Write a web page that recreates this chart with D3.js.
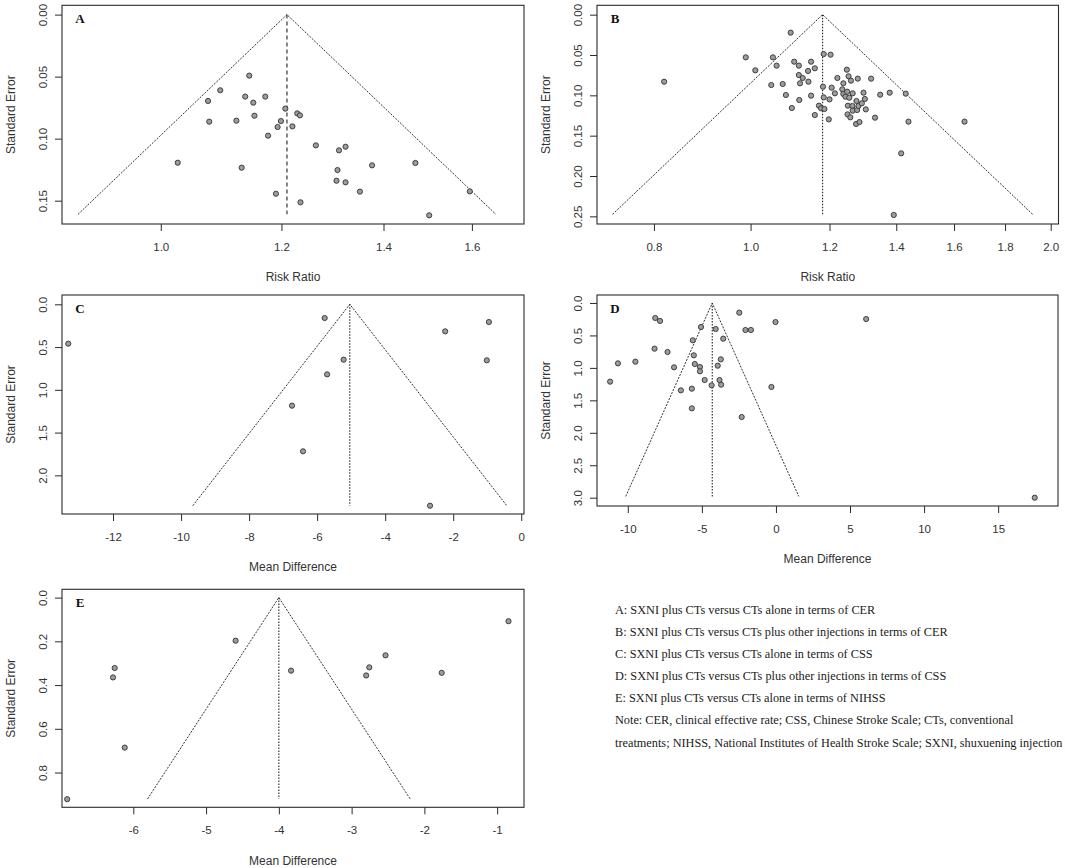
<!DOCTYPE html>
<html><head><meta charset="utf-8">
<script src="https://cdn.jsdelivr.net/npm/d3@7"></script>
<style>body{margin:0;background:#fff} svg{display:block}</style>
</head><body>
<svg id="chart" width="1065" height="868"></svg>
<script>
// ---------- DATA ----------
const aRR = [1.026,1.074,1.076,1.094,1.121,1.130,1.136,1.143,1.150,1.152,1.171,1.176,1.190,1.193,1.199,1.207,1.220,1.229,1.234,1.235,1.264,1.304,1.306,1.309,1.322,1.322,1.351,1.376,1.469,1.500,1.595];
const aSE = [0.1194,0.0696,0.0863,0.0610,0.0855,0.1234,0.0661,0.0492,0.0710,0.0815,0.0661,0.0976,0.1444,0.0906,0.0858,0.0758,0.0901,0.0796,0.0812,0.1513,0.1054,0.1339,0.1253,0.1094,0.1352,0.1065,0.1427,0.1215,0.1196,0.1618,0.1425];

const bRR = [0.819,0.989,1.011,1.049,1.053,1.062,1.077,1.085,1.097,1.100,1.106,1.118,1.118,1.119,1.121,1.128,1.142,1.143,1.150,1.150,1.160,1.160,1.171,1.177,1.182,1.184,1.184,1.186,1.198,1.200,1.203,1.206,1.215,1.222,1.236,1.239,1.239,1.245,1.249,1.250,1.251,1.252,1.254,1.256,1.259,1.261,1.265,1.266,1.266,1.276,1.277,1.279,1.281,1.283,1.286,1.293,1.298,1.302,1.305,1.321,1.333,1.349,1.379,1.416,1.392,1.431,1.440,1.639];
const bSE = [0.0831,0.0529,0.0690,0.0872,0.0529,0.0632,0.0860,0.0996,0.0223,0.1157,0.0583,0.0632,0.0748,0.1058,0.0851,0.0785,0.0698,0.0831,0.0583,0.1004,0.0665,0.1244,0.1128,0.1161,0.0893,0.0488,0.1025,0.1169,0.1298,0.1050,0.0496,0.0905,0.0975,0.0785,0.0926,0.0851,0.0983,0.1017,0.0682,0.0955,0.1236,0.1128,0.0764,0.1029,0.1273,0.0818,0.1132,0.1190,0.0975,0.1355,0.1070,0.1182,0.0793,0.1132,0.1331,0.1099,0.0967,0.1045,0.1174,0.0793,0.1277,0.0992,0.0967,0.1719,0.2483,0.0979,0.1326,0.1326];

const cMD = [-13.316,-6.739,-6.415,-5.778,-5.707,-5.221,-2.681,-2.236,-1.012,-0.951];
const cSE = [0.460,1.185,1.719,0.160,0.819,0.647,2.355,0.316,0.655,0.207];

const dMD = [-11.195,-10.665,-9.487,-8.194,-8.148,-7.825,-7.317,-6.878,-6.417,-5.678,-5.678,-5.614,-5.545,-5.476,-5.13,-5.13,-5.06,-4.81,-4.34,-4.07,-3.93,-3.81,-3.72,-3.70,-3.56,-2.475,-2.313,-2.059,-1.69,-0.305,-0.028,6.09,17.47];
const dSE = [1.212,0.930,0.904,0.704,0.231,0.277,0.755,0.991,1.346,1.320,1.623,0.575,0.806,0.940,0.986,1.053,0.370,1.187,1.269,0.401,0.966,1.187,0.868,1.259,0.550,0.149,1.757,0.416,0.416,1.294,0.293,0.247,3.0];

const eMD = [-6.909,-6.279,-6.256,-6.118,-4.594,-3.832,-2.80,-2.757,-2.534,-1.762,-0.844];
const eSE = [0.922,0.365,0.322,0.686,0.197,0.334,0.356,0.319,0.264,0.344,0.108];

const funnelEst   = [1.21, 1.181, -5.04, -4.30, -4.00];
const funnelSEmax = [0.161, 0.2475, 2.355, 2.98, 0.921];

const aXTicks = [1.0,1.2,1.4,1.6], aYTicks = [0,0.05,0.10,0.15];
const bXTicks = [0.8,1.0,1.2,1.4,1.6,1.8,2.0], bYTicks = [0,0.05,0.10,0.15,0.20,0.25];
const cXTicks = [-12,-10,-8,-6,-4,-2,0], cYTicks = [0,0.5,1.0,1.5,2.0];
const dXTicks = [-10,-5,0,5,10,15], dYTicks = [0,0.5,1.0,1.5,2.0,2.5,3.0];
const eXTicks = [-6,-5,-4,-3,-2,-1], eYTicks = [0,0.2,0.4,0.6,0.8];

const panelLetters = ["A","B","C","D","E"];
const xLabels = ["Risk Ratio","Risk Ratio","Mean Difference","Mean Difference","Mean Difference"];
const yLabel = "Standard Error";

const legendLines = [
  "A: SXNI plus CTs versus CTs alone in terms of CER",
  "B: SXNI plus CTs versus CTs plus other injections in terms of CER",
  "C: SXNI plus CTs versus CTs alone in terms of CSS",
  "D: SXNI plus CTs versus CTs plus other injections in terms of CSS",
  "E: SXNI plus CTs versus CTs alone in terms of NIHSS",
  "Note: CER, clinical effective rate; CSS, Chinese Stroke Scale; CTs, conventional",
  "treatments; NIHSS, National Institutes of Health Stroke Scale; SXNI, shuxuening injection"
];

// ---------- LAYOUT ----------
const panels = [
  {x:aRR, y:aSE, xt:aXTicks, yt:aYTicks, xf:d3.format(".1f"), yf:d3.format(".2f"), log:true,
   box:[62,5.3,524,224], xd:[0.8614,1.731], yd:[-0.0075,0.1688], centerDash:"4,3"},
  {x:bRR, y:bSE, xt:bXTicks, yt:bYTicks, xf:d3.format(".1f"), yf:d3.format(".2f"), log:true,
   box:[597,5.3,1058.5,224], xd:[0.7014,2.0364], yd:[-0.0116,0.2595], centerDash:"1.5,1.5"},
  {x:cMD, y:cSE, xt:cXTicks, yt:cYTicks, xf:d3.format("d"), yf:d3.format(".1f"), log:false,
   box:[62,295,524,514], xd:[-13.5,0.081], yd:[-0.109,2.452], centerDash:"1.5,1.5"},
  {x:dMD, y:dSE, xt:dXTicks, yt:dYTicks, xf:d3.format("d"), yf:d3.format(".1f"), log:false,
   box:[597,295,1058,506], xd:[-12.08,19.04], yd:[-0.123,3.128], centerDash:"1.5,1.5"},
  {x:eMD, y:eSE, xt:eXTicks, yt:eYTicks, xf:d3.format("d"), yf:d3.format(".1f"), log:false,
   box:[62,589.3,524,807.3], xd:[-6.98,-0.631], yd:[-0.038,0.959], centerDash:"1.5,1.5"}
];

const svg = d3.select("#chart");
svg.append("rect").attr("width",1065).attr("height",868).attr("fill","#fff");
const hyph = s => s.replace("\u2212", "-");
const axisFont = "'Liberation Sans', Arial, sans-serif";
const ink = "#2a2a2a";

panels.forEach((p, i) => {
  const [L,T,R,B] = p.box;
  const xs = (p.log ? d3.scaleLog() : d3.scaleLinear()).domain(p.xd).range([L,R]);
  const ys = d3.scaleLinear().domain(p.yd).range([T,B]);
  const g = svg.append("g");

  // funnel
  const est = funnelEst[i], sm = funnelSEmax[i];
  const lo = p.log ? Math.exp(Math.log(est) - 1.96*sm) : est - 1.96*sm;
  const hi = p.log ? Math.exp(Math.log(est) + 1.96*sm) : est + 1.96*sm;
  const line = d3.line().x(d=>xs(d[0])).y(d=>ys(d[1]));
  g.append("path").attr("d", line([[lo,sm],[est,0],[hi,sm]]))
    .attr("fill","none").attr("stroke","#333").attr("stroke-width",1)
    .attr("stroke-dasharray","2,1.3");
  g.append("path").attr("d", line([[est,0],[est,sm]]))
    .attr("fill","none").attr("stroke","#222").attr("stroke-width",1.1)
    .attr("stroke-dasharray",p.centerDash);

  // points
  g.selectAll("circle.pt").data(p.x.map((v,k)=>[v,p.y[k]])).join("circle")
    .attr("class","pt").attr("cx",d=>xs(d[0])).attr("cy",d=>ys(d[1])).attr("r",2.6)
    .attr("fill","#9c9c9c").attr("stroke","#333").attr("stroke-width",0.9);

  // box
  g.append("rect").attr("x",L).attr("y",T).attr("width",R-L).attr("height",B-T)
    .attr("fill","none").attr("stroke",ink).attr("stroke-width",1.1);

  // x axis
  const xa = g.append("g").attr("transform",`translate(0,${B})`)
    .call(d3.axisBottom(xs).tickValues(p.xt).tickFormat(d=>hyph(p.xf(d))).tickSize(7).tickSizeOuter(0));
  xa.select(".domain").remove();
  xa.selectAll("line").attr("stroke",ink);
  xa.selectAll("text").attr("y",23).attr("dy","0.35em").attr("fill","#333")
    .style("font-family",axisFont).style("font-size","11.5px");

  // y axis
  const ya = g.append("g").attr("transform",`translate(${L},0)`)
    .call(d3.axisLeft(ys).tickValues(p.yt).tickFormat(d=>p.yf(d)).tickSize(7).tickSizeOuter(0));
  ya.select(".domain").remove();
  ya.selectAll("line").attr("stroke",ink);
  ya.selectAll("text").attr("x",null).attr("dy","0.35em").attr("text-anchor","middle")
    .attr("transform","translate(-19.5,0) rotate(-90)").attr("fill","#333")
    .style("font-family",axisFont).style("font-size","11.5px");

  // axis labels
  g.append("text").attr("x",(L+R)/2).attr("y",B+53).attr("dy","0.35em")
    .attr("text-anchor","middle").attr("fill","#333")
    .style("font-family",axisFont).style("font-size","12px").text(xLabels[i]);
  g.append("text").attr("transform",`translate(${L-51},${(T+B)/2}) rotate(-90)`)
    .attr("dy","0.35em").attr("text-anchor","middle").attr("fill","#333")
    .style("font-family",axisFont).style("font-size","12px").text(yLabel);

  // panel letter
  g.append("text").attr("x",L+18).attr("y",T+13.5).attr("dy","0.35em")
    .attr("text-anchor","middle").attr("fill","#111")
    .style("font-family","'Liberation Serif','Times New Roman',serif")
    .style("font-weight","bold").style("font-size","13px").text(panelLetters[i]);
});

// legend
const serif = "'Liberation Serif','Times New Roman',serif";
const leg = svg.append("g");
const centers = [610, 632.3, 654.3, 676.3, 698.3, 720.3, 742.7];
let fs = 13;
const probe = leg.append("text").style("font-family",serif).style("font-size",fs+"px").text(legendLines[6]);
const w = probe.node().getComputedTextLength();
probe.remove();
if (w > 0) fs = fs * 448 / w;
leg.selectAll("text").data(legendLines).join("text")
  .attr("x",615).attr("y",(d,k)=>centers[k]).attr("dy","0.33em")
  .attr("fill","#1a1a1a")
  .style("font-family",serif).style("font-size",fs.toFixed(2)+"px").text(d=>d);
</script>
</body></html>
